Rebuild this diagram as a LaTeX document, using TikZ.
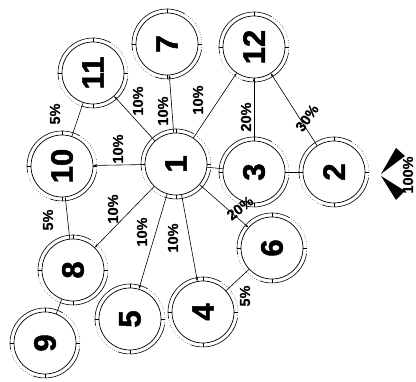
\documentclass[tikz,border=0pt]{standalone}
\usepackage{fontspec}
\setmainfont{Liberation Sans}
\newfontfamily\numfont[BoldFeatures={FakeBold=1.6}]{Liberation Sans}
\newfontfamily\pctfont[BoldFeatures={FakeBold=0.6}]{Liberation Sans}
\usetikzlibrary{arrows.meta}
\newcommand\nodering[1]{%
  \draw[rg] ([shift={(60:35pt)}]#1.center) arc[start angle=60,end angle=190,radius=35pt];
  \draw[rg] ([shift={(250:35pt)}]#1.center) arc[start angle=250,end angle=350,radius=35pt];
  \draw[rgd] ([shift={(190:35pt)}]#1.center) arc[start angle=190,end angle=250,radius=35pt];
  \draw[rgd] ([shift={(-10:35pt)}]#1.center) arc[start angle=-10,end angle=60,radius=35pt];
  \foreach \a in {0,90,180,270}{\draw[rg] ([shift={(\a:31pt)}]#1.center) -- ([shift={(\a:35pt)}]#1.center);}%
}
\begin{document}
\begin{tikzpicture}[x=1pt,y=-1pt,
  nd/.style={circle,draw,line width=0.7pt,minimum size=62pt,inner sep=0pt,
    font=\numfont\fontsize{31}{31}\selectfont\bfseries,rotate=90},
  lbl/.style={font=\pctfont\fontsize{14.5}{14.5}\selectfont\bfseries,rotate=90,inner sep=0pt},
  rg/.style={line width=0.6pt},
  rgd/.style={line width=0.5pt,dotted},
  ed/.style={line width=0.6pt},
  ar/.style={ed,-{Stealth[length=3.5pt,width=2.5pt]}}]
\useasboundingbox (0,0) rectangle (416,382);
\node[nd] (n1) at (176,164) {1};
\node[nd] (n2) at (334,172) {2};
\node[nd] (n3) at (254,172) {3};
\node[nd] (n4) at (203,312) {4};
\node[nd] (n5) at (130,319) {5};
\node[nd] (n6) at (272,248) {6};
\node[nd] (n7) at (167,44) {7};
\node[nd] (n8) at (73,270) {8};
\node[nd] (n9) at (45,343) {9};
\node[nd] (n10) at (62,166) {10};
\node[nd] (n11) at (93,73) {11};
\node[nd] (n12) at (254,47) {12};
\foreach \n in {n1,n2,n3,n4,n5,n6,n7,n8,n9,n10,n11,n12}{\nodering{\n}}
% connectors
\draw[ar] (n1) -- (n10);
\draw[ar] (n1) -- (n11);
\draw[ar] (n1) -- (n7);
\draw[ar] (n1) -- (n12);
\draw[ar] (n1) -- (n6);
\draw[ar] (n1) -- (n4);
\draw[ar] (n1) -- (n5);
\draw[ar] (n1) -- (n8);
\draw[ar] (n3) -- (n12);
\draw[ar] (n2) -- (n12);
\draw[ed] (n1) -- (n3);
\draw[ed] (n3) -- (n2);
\draw[ed] (n10) -- (n11);
\draw[ed] (n10) -- (n8);
\draw[ed] (n8) -- (n9);
\draw[ed] (n6) -- (n4);
% labels
\node[lbl] (l110) at (118,149) {10\%};
\node[lbl] (l111) at (138,101) {10\%};
\node[lbl] (l17) at (163,111) {10\%};
\node[lbl] (l112) at (198,100) {10\%};
\node[lbl] (l312) at (246,117) {20\%};
\node[lbl,rotate=-35] (l212) at (307,118) {30\%};
\node[lbl,rotate=-52] (l16) at (240,208) {20\%};
\node[lbl] (l64) at (245,296) {5\%};
\node[lbl] (l14) at (173,238) {10\%};
\node[lbl] (l15) at (142,232) {10\%};
\node[lbl] (l18) at (113,209) {10\%};
\node[lbl] (l108) at (48,220) {5\%};
\node[lbl] (l1011) at (55,114) {5\%};
\node[lbl] (lsrc) at (408,175) {100\%};
% source wedge
\fill (381,174) -- (396,148) -- (405,156) -- cycle;
\fill (381,176) -- (405,191) -- (396,200) -- cycle;
\end{tikzpicture}
\end{document}
